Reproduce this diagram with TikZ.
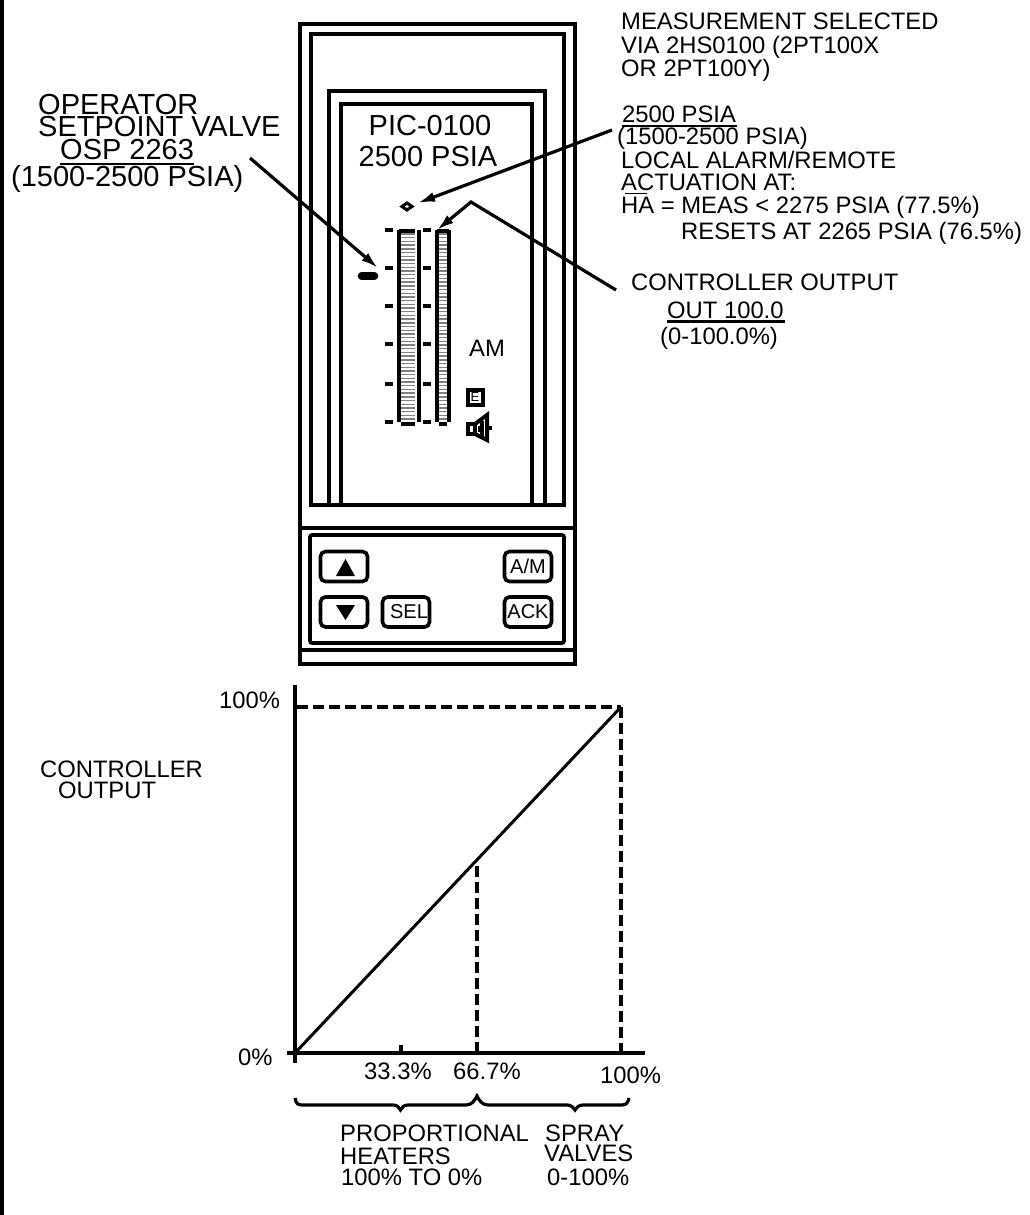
\documentclass[tikz,border=0pt]{standalone}
\usepackage{fontspec}
\setmainfont{Liberation Sans}
\usetikzlibrary{arrows.meta}
\definecolor{jet}{HTML}{000000}
\definecolor{stripe-gray}{HTML}{808080}
\tikzset{
  bigtxt/.style={anchor=base west, inner sep=0pt, font=\fontsize{29}{29}\selectfont},
  midtxt/.style={anchor=base west, inner sep=0pt, font=\fontsize{23.8}{24}\selectfont},
  frame/.style={draw=jet, line width=3.6pt, inner sep=0pt},
  keybtn/.style={draw=jet, line width=3.6pt, rounded corners=5pt, inner sep=0pt,
        minimum width=47pt, minimum height=30pt, font=\fontsize{20}{20}\selectfont},
  leader/.style={draw=jet, line width=3.2pt, -{Latex[length=17pt,width=10pt]}},
  baredash/.style={draw=jet, line width=4pt, dash pattern=on 11pt off 5pt},
  tick/.style={draw=jet, line width=4pt}
}
\begin{document}
\begin{tikzpicture}[x=1pt, y=-1pt]
      \useasboundingbox (0,0) rectangle (1030,1215);
      \fill[jet] (0,0) rectangle (4,1215);
      % housing
      \node[frame, minimum width=275pt, minimum height=640pt] (housing) at (437.5,344) {};
      \node[frame, minimum width=253pt, minimum height=471pt] (bezel) at (437.5,269.5) {};
      \node[frame, minimum width=216pt, minimum height=414pt] (window) at (437,298) {};
      \node[frame, minimum width=191pt, minimum height=401pt] (screen) at (436.5,304.5) {};
      \draw[jet, line width=3.6pt] (300,528) -- (575,528);
      \draw[jet, line width=3.6pt] (300,650) -- (575,650);
      % keypad
      \node[frame, rounded corners=2pt, minimum width=254pt, minimum height=108pt] (keypad) at (437,589) {};
      \node[keybtn] (btnup) at (344,566.5) {};
      \node[keybtn] (btndown) at (344,612) {};
      \node[keybtn] (btnsel) at (406,612) {\hspace*{6pt}\raisebox{-7pt}{SEL}};
      \node[keybtn] (btnam) at (528,566.5) {A/M};
      \node[keybtn] (btnack) at (528,612) {ACK};
      \fill[jet] (336,576) -- (345.5,559) -- (355,576) -- cycle;
      \fill[jet] (336,605) -- (345.5,620) -- (355,605) -- cycle;
      % screen text
      \node[bigtxt, anchor=base] (tagname) at (430,135) {PIC-0100};
      \node[bigtxt, anchor=base] (tagvalue) at (428,166) {2500 PSIA};
      \node[midtxt] (modetxt) at (469,356) {AM};
      % bargraphs
      \foreach \yy in {234,237.7,...,421} {
        \draw[stripe-gray, line width=1.4pt] (401,\yy) -- (415,\yy);
        \draw[stripe-gray, line width=1.4pt] (439,\yy) -- (447,\yy);
      }
      \draw[jet, line width=4pt] (399,230) -- (399,422);
      \draw[jet, line width=4pt] (418.5,230) -- (418.5,422);
      \draw[jet, line width=4pt] (437,230) -- (437,422);
      \draw[jet, line width=4pt] (449,230) -- (449,422);
      \draw[jet, line width=4pt] (399,231) -- (415,231);
      \draw[jet, line width=4pt] (401,423.5) -- (415,423.5);
      \draw[jet, line width=4pt] (437,231) -- (449,231);
      \draw[jet, line width=4pt] (439,423.5) -- (447,423.5);
      \foreach \yy in {230,268,306,344,384,422} {
        \draw[tick] (385,\yy) -- (393,\yy);
        \draw[tick] (423,\yy) -- (431,\yy);
      }
      % markers
      \draw[jet, line width=3pt] (407,203) -- (412,206.5) -- (407,210) -- (402,206.5) -- cycle;
      \draw[jet, line width=7.5pt, line cap=round] (361.5,276) -- (374.5,276);
      \node[frame, line width=4pt, minimum size=15pt, font=\fontsize{13}{13}\selectfont] (ebox) at (475,397.5) {E};
      \draw[jet, line width=4pt] (468,424) rectangle (475,434);
      \draw[jet, line width=4pt] (475,424) -- (487,415) -- (487,440) -- (475,434);
      \draw[jet, line width=3pt] (479,426) -- (479,432);
      \draw[jet, line width=4pt] (482,421) -- (482,437);
      \draw[jet, line width=4pt] (487,427.5) -- (492,427.5);
      % labels on the left
      \node[bigtxt] (opline) at (38,114) {OPERATOR};
      \node[bigtxt] (spline) at (38,136) {SETPOINT VALVE};
      \node[bigtxt] (ospline) at (60,159) {OSP 2263};
      \node[bigtxt] (rangeline) at (11,186) {(1500-2500 PSIA)};
      \draw[jet, line width=2.6pt] (60,164) -- (194,164);
      % labels on the right
      \node[midtxt] (measline) at (621,30) {MEASUREMENT SELECTED};
      \node[midtxt] (vialine) at (621,54) {VIA 2HS0100 (2PT100X};
      \node[midtxt] (orline) at (621,77) {OR 2PT100Y)};
      \node[midtxt] (psialine) at (622,122) {2500 PSIA};
      \node[midtxt] (spanline) at (617,144) {(1500-2500 PSIA)};
      \node[midtxt] (alarmline) at (621,168) {LOCAL ALARM/REMOTE};
      \node[midtxt] (actline) at (621,190) {ACTUATION AT:};
      \node[midtxt] (haline) at (621,213) {HA = MEAS < 2275 PSIA (77.5\%)};
      \node[midtxt] (resetline) at (681,239) {RESETS AT 2265 PSIA (76.5\%)};
      \node[midtxt] (ctrlline) at (631,290) {CONTROLLER OUTPUT};
      \node[midtxt] (outline) at (667,318) {OUT 100.0};
      \node[midtxt] (pctline) at (660,344) {(0-100.0\%)};
      \draw[jet, line width=1.6pt] (622,126) -- (737,126);
      \draw[jet, line width=1pt] (625,193) -- (647,193);
      \draw[jet, line width=2.2pt] (667,321.5) -- (785,321.5);
      % pointers
      \coordinate (sptail) at (250,158);
      \coordinate (sphead) at (378,268);
      \coordinate (almtail) at (612,130);
      \coordinate (almhead) at (418,203);
      \coordinate (outtail) at (616,290);
      \coordinate (outbend) at (471,202);
      \coordinate (outhead) at (437,230);
      \draw[leader] (sptail) -- (sphead);
      \draw[leader] (almtail) -- (almhead);
      \draw[leader] (outtail) -- (outbend) -- (outhead);
      % chart
      \coordinate (orig) at (295,1053);
      \coordinate (full) at (621,707);
      \coordinate (knee) at (477,866);
      \coordinate (kneefoot) at (477,1053);
      \draw[jet, line width=4pt] (295,685) -- (295,1063);
      \draw[jet, line width=4pt] (287,1053) -- (645,1053);
      \draw[jet, line width=3pt] (orig) -- (full);
      \draw[baredash] (297,707) -- (full);
      \draw[baredash] (full) -- (621,1053);
      \draw[baredash] (knee) -- (kneefoot);
      \draw[tick] (400.5,1045) -- (400.5,1053);
      \node[midtxt] (ymax) at (219,708) {100\%};
      \node[midtxt] (ymin) at (238,1065) {0\%};
      \node[midtxt] (ylab) at (40,777) {CONTROLLER};
      \node[midtxt] (ylabb) at (58,798) {OUTPUT};
      \node[midtxt] (xa) at (364,1079) {33.3\%};
      \node[midtxt] (xb) at (453,1079) {66.7\%};
      \node[midtxt] (xc) at (600,1083) {100\%};
      % range brace
      \draw[jet, line width=3.2pt] (295,1098) .. controls (296,1104) and (298,1105) .. (303,1105) -- (393,1105)
        .. controls (397,1105) and (399,1107) .. (400.5,1110) .. controls (402,1107) and (404,1105) .. (408,1105) -- (466,1105)
        .. controls (472,1105) and (475,1100) .. (477,1096) .. controls (479,1100) and (482,1105) .. (488,1105) -- (567,1105)
        .. controls (571,1105) and (573,1107) .. (575,1110) .. controls (577,1107) and (579,1105) .. (583,1105) -- (622,1105)
        .. controls (626,1105) and (628,1103) .. (629,1098);
      \node[midtxt] (propline) at (340,1141) {PROPORTIONAL};
      \node[midtxt] (heatline) at (340,1164) {HEATERS};
      \node[midtxt] (heatpct) at (341,1185) {100\% TO 0\%};
      \node[midtxt] (sprayline) at (545,1141) {SPRAY};
      \node[midtxt] (valveline) at (544,1161) {VALVES};
      \node[midtxt] (valvepct) at (547,1185) {0-100\%};
    \end{tikzpicture}
\end{document}
